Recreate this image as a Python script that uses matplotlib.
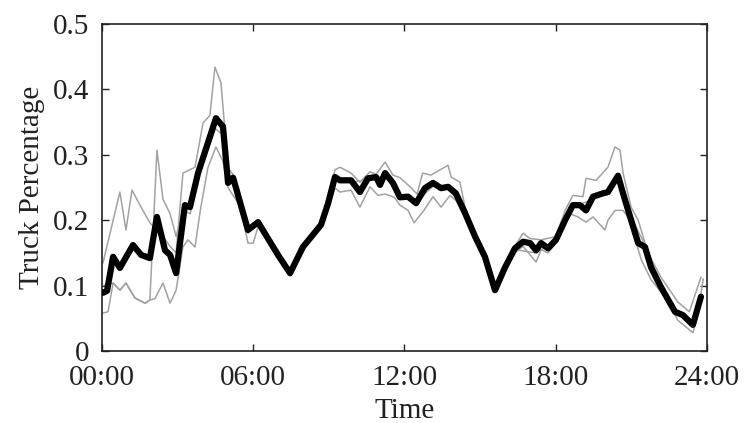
import matplotlib
matplotlib.use("Agg")
import matplotlib.pyplot as plt

plt.rcParams['font.family'] = ['Liberation Serif', 'DejaVu Serif']

# ---- data (hours, truck percentage) ----
mean_t = [0.04, 0.20, 0.44, 0.71, 1.23, 1.55, 1.90, 2.18, 2.50, 2.70, 2.94, 3.29, 3.49, 3.81,
          4.52, 4.80, 5.00, 5.20, 5.79, 6.19, 6.98, 7.46, 7.97, 8.29, 8.69, 8.97, 9.24, 9.44,
          9.88, 10.23, 10.55, 10.87, 11.03, 11.23, 11.54, 11.82, 12.14, 12.46, 12.81, 13.13,
          13.45, 13.73, 14.04, 14.40, 14.80, 15.19, 15.59, 15.99, 16.38, 16.70, 16.98, 17.22,
          17.42, 17.69, 18.01, 18.37, 18.68, 18.96, 19.20, 19.48, 19.87, 20.07, 20.47, 20.67,
          20.99, 21.27, 21.54, 21.78, 22.17, 22.73, 23.04, 23.44, 23.76]
mean_v = [0.089, 0.092, 0.144, 0.127, 0.162, 0.147, 0.142, 0.205, 0.154, 0.147, 0.119, 0.223, 0.220, 0.272,
          0.356, 0.343, 0.257, 0.265, 0.185, 0.197, 0.147, 0.119, 0.159, 0.174, 0.193, 0.226, 0.266, 0.261,
          0.261, 0.243, 0.264, 0.266, 0.254, 0.272, 0.257, 0.235, 0.236, 0.226, 0.249, 0.257,
          0.249, 0.251, 0.241, 0.211, 0.175, 0.144, 0.093, 0.128, 0.157, 0.167, 0.165, 0.154,
          0.165, 0.157, 0.170, 0.200, 0.223, 0.223, 0.215, 0.236, 0.241, 0.243, 0.268, 0.241,
          0.200, 0.165, 0.159, 0.128, 0.098, 0.060, 0.055, 0.040, 0.083]

up_t = [0.04, 0.71, 0.95, 1.19, 1.55, 1.90, 2.42, 2.70, 2.94, 3.21, 3.69, 4.01, 4.28, 4.48, 4.72,
        5.00, 5.20, 5.79, 6.19, 6.98, 7.46, 7.97, 8.69, 9.00, 9.24, 9.44, 9.88, 10.23, 10.63, 10.87,
        11.23, 11.54, 11.82, 12.14, 12.50, 12.72, 13.05, 13.41, 13.73, 13.85, 14.20, 14.40, 14.80,
        15.19, 15.59, 15.99, 16.38, 16.70, 16.98, 17.42, 18.01, 18.37, 18.68, 19.08, 19.20, 19.60,
        20.07, 20.35, 20.55, 20.67, 20.99, 21.27, 21.66, 22.17, 22.84, 23.30, 23.76]
up_v = [0.135, 0.243, 0.185, 0.246, 0.220, 0.196, 0.175, 0.160, 0.150, 0.272, 0.281, 0.349, 0.360, 0.434, 0.410,
        0.280, 0.270, 0.190, 0.197, 0.150, 0.125, 0.160, 0.195, 0.230, 0.277, 0.281, 0.272, 0.258, 0.274, 0.270,
        0.289, 0.269, 0.265, 0.254, 0.240, 0.272, 0.269, 0.277, 0.284, 0.266, 0.258, 0.220, 0.180,
        0.150, 0.095, 0.130, 0.160, 0.180, 0.172, 0.170, 0.175, 0.215, 0.238, 0.236, 0.264, 0.261,
        0.281, 0.312, 0.307, 0.272, 0.220, 0.200, 0.150, 0.113, 0.075, 0.060, 0.113]

mid_t = [0.04, 0.44, 0.71, 0.95, 1.31, 1.71, 1.90, 2.18, 2.42, 2.70, 2.94, 3.21, 3.50, 3.81, 4.50,
         4.80, 5.00, 5.40, 5.79, 6.19, 7.00, 7.46, 7.97, 8.69, 9.24, 9.88, 10.55, 11.23, 11.82,
         12.46, 13.13, 13.73, 14.40, 15.19, 15.59, 16.38, 17.22, 18.01, 18.68, 19.48, 20.07,
         20.47, 20.99, 21.54, 22.17, 22.73, 23.44, 23.76]
mid_v = [0.100, 0.104, 0.093, 0.104, 0.081, 0.073, 0.078, 0.307, 0.232, 0.210, 0.175, 0.215, 0.210, 0.265, 0.340,
         0.330, 0.260, 0.250, 0.180, 0.200, 0.140, 0.120, 0.157, 0.190, 0.262, 0.258, 0.262, 0.268, 0.238,
         0.228, 0.252, 0.250, 0.213, 0.146, 0.092, 0.155, 0.150, 0.168, 0.220, 0.232, 0.245,
         0.262, 0.205, 0.162, 0.100, 0.062, 0.045, 0.080]

low_t = [0.04, 0.24, 0.44, 0.71, 0.95, 1.31, 1.71, 1.90, 2.10, 2.42, 2.70, 2.94, 3.21, 3.41, 3.69,
         3.90, 4.20, 4.52, 4.80, 5.00, 5.50, 5.79, 6.00, 6.19, 6.98, 7.30, 7.46, 7.97, 8.69, 9.00,
         9.24, 9.44, 9.88, 10.23, 10.63, 10.95, 11.23, 11.60, 11.82, 12.14, 12.38, 12.77, 13.13,
         13.45, 13.81, 14.04, 14.40, 14.80, 15.19, 15.59, 15.99, 16.38, 16.70, 17.22, 17.42, 17.69,
         18.01, 18.37, 18.56, 18.88, 19.20, 19.48, 19.95, 20.07, 20.35, 20.67, 20.95, 21.15, 21.40,
         21.78, 22.33, 22.84, 23.44, 23.60, 23.85]
low_v = [0.058, 0.060, 0.104, 0.093, 0.104, 0.081, 0.073, 0.078, 0.080, 0.104, 0.073, 0.093, 0.159, 0.170, 0.159,
         0.215, 0.280, 0.312, 0.290, 0.250, 0.220, 0.165, 0.165, 0.190, 0.154, 0.130, 0.115, 0.155, 0.190, 0.220,
         0.249, 0.243, 0.246, 0.220, 0.251, 0.238, 0.240, 0.235, 0.223, 0.215, 0.196, 0.215, 0.236,
         0.220, 0.238, 0.230, 0.205, 0.170, 0.140, 0.090, 0.125, 0.150, 0.160, 0.136, 0.155, 0.150,
         0.165, 0.195, 0.210, 0.205, 0.197, 0.205, 0.185, 0.200, 0.215, 0.215, 0.200, 0.170, 0.139,
         0.109, 0.083, 0.047, 0.028, 0.050, 0.110]

xticks = [0, 6, 12, 18, 24]
xtick_labels = ["00:00", "06:00", "12:00", "18:00", "24:00"]
yticks = [0, 0.1, 0.2, 0.3, 0.4, 0.5]
ytick_labels = ["0", "0.1", "0.2", "0.3", "0.4", "0.5"]

fig = plt.figure(figsize=(7.45, 4.23), dpi=100)
ax = fig.add_axes([0.1369, 0.1702, 0.8121, 0.7731])

gray = "#a2a2a2"
for t, v in [(up_t, up_v), (mid_t, mid_v), (low_t, low_v)]:
    ax.plot(t, v, color=gray, lw=1.1, zorder=2)
ax.plot(mean_t, mean_v, color="black", lw=4.5, solid_joinstyle="round",
        solid_capstyle="round", zorder=3)

ax.set_xlim(0, 24)
ax.set_ylim(0, 0.5)
ax.set_xticks(xticks)
ax.set_xticklabels(xtick_labels)
ax.set_yticks(yticks)
ax.set_yticklabels(ytick_labels)
ax.tick_params(direction="in", length=5, width=1, top=True, right=True,
               labelsize=21, colors="#222222", pad=9)
ax.tick_params(axis="x", pad=10)
for s in ax.spines.values():
    s.set_linewidth(1.2)
    s.set_color("#222222")

ax.set_xlabel("Time", fontsize=21, color="#222222", labelpad=5)
ax.set_ylabel("Truck Percentage", fontsize=21, color="#222222", labelpad=6)

fig.savefig("out.png", dpi=100)
